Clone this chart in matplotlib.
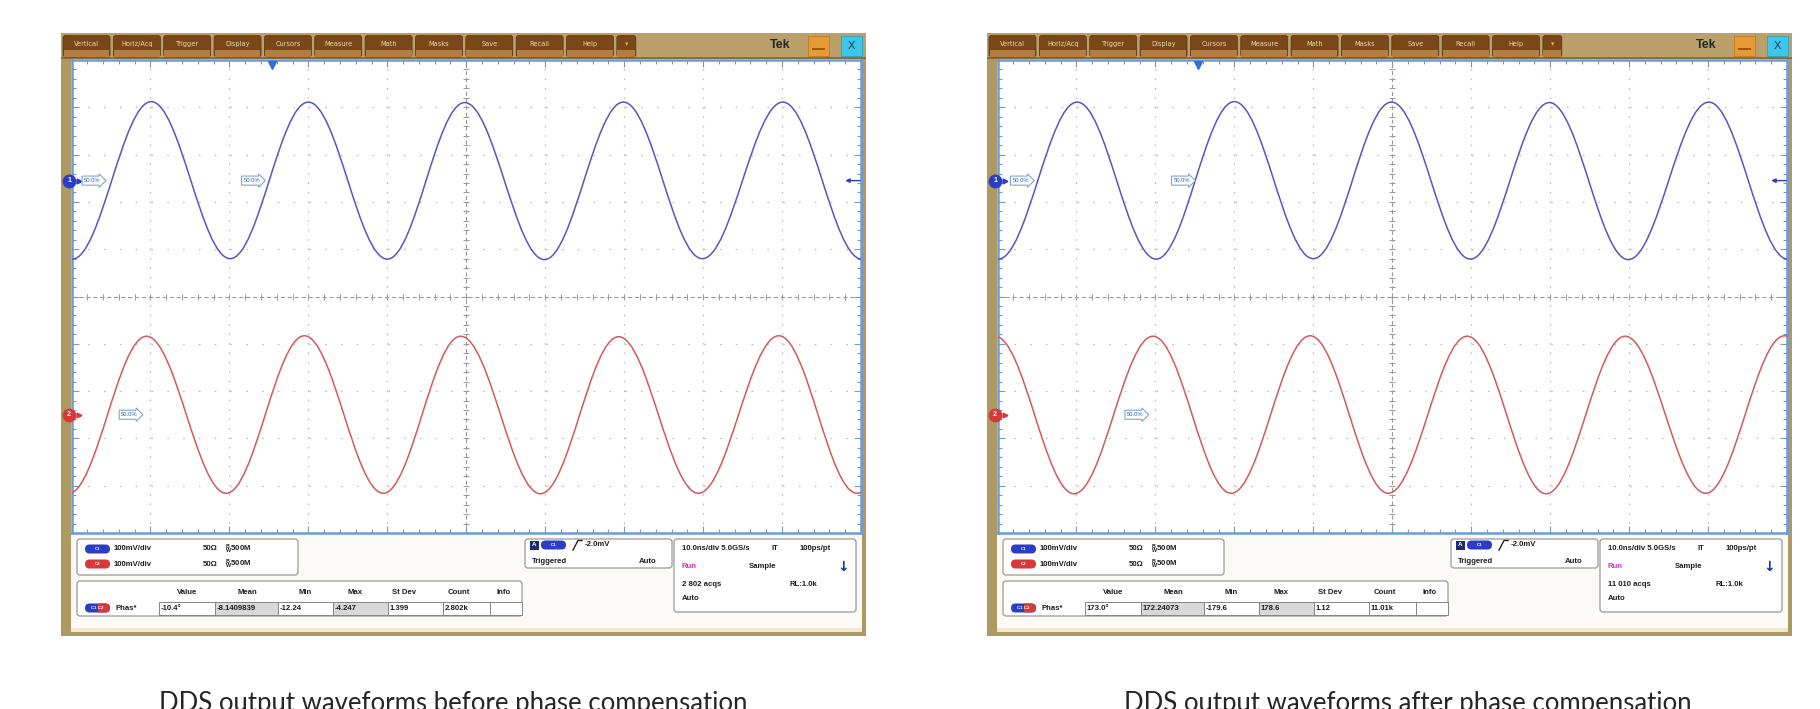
import matplotlib
matplotlib.use("Agg")
import numpy as np
import matplotlib.pyplot as plt
from matplotlib.patches import Rectangle, FancyBboxPatch, PathPatch
from matplotlib.path import Path

plt.rcParams['font.family'] = ['Liberation Sans', 'DejaVu Sans']
plt.rcParams['mathtext.fontset'] = 'custom'
plt.rcParams['mathtext.rm'] = 'Liberation Sans:bold'
plt.rcParams['mathtext.it'] = 'Liberation Sans:bold'
plt.rcParams['mathtext.bf'] = 'Liberation Sans:bold'
plt.rcParams['lines.scale_dashes'] = False

# ---------------- data ----------------
captions = ["DDS output waveforms before phase compensation",
            "DDS output waveforms after phase compensation"]
menu_tabs = ["Vertical", "Horiz/Acq", "Trigger", "Display", "Cursors", "Measure",
             "Math", "Masks", "Save", "Recall", "Help", "\u25be"]
channel_scale = ["100mV/div", "100mV/div"]
channel_term = ["50\u03a9", "50\u03a9"]
channel_bw = ["500M", "500M"]
meas_headers = ["Value", "Mean", "Min", "Max", "St Dev", "Count", "Info"]
meas_before = ["-10.4\u00b0", "-8.1409839", "-12.24", "-4.247", "1.399", "2.802k", ""]
meas_after = ["173.0\u00b0", "172.24073", "-179.6", "178.6", "1.12", "11.01k", ""]
acqs_before = "2 802 acqs"
acqs_after = "11 010 acqs"
trigger_level = "-2.0mV"
horiz_settings = ["10.0ns/div 5.0GS/s", "IT", "100ps/pt"]
record_length = "RL:1.0k"
marker_label = "50.0%"

# waveform extrema: time (ns) and level (mV); channel offsets in divisions
volts_per_div_mv = 100.0
ch1_pos_div = 2.45
ch2_pos_div = -2.5
before_ch1_t = [-9.9, 0.1, 10.1, 20.1, 30.0, 40.0, 49.8, 59.9, 69.9, 79.9, 90.1, 100.1]
before_ch1_mv = [166, -166, 167, -165, 166, -166, 165, -167, 166, -165, 166, -166]
before_ch2_t = [-10.4, -0.4, 9.5, 19.6, 29.5, 39.5, 49.3, 59.4, 69.3, 79.4, 89.6, 99.5, 109.6]
before_ch2_mv = [167, -167, 166, -166, 167, -166, 166, -167, 165, -166, 167, -166, 166]
after_ch1_t = [-9.9, 0.1, 10.1, 20.1, 30.0, 40.0, 49.9, 59.9, 69.9, 79.9, 90.1, 100.1]
after_ch1_mv = [166, -166, 166, -166, 167, -165, 166, -166, 165, -167, 166, -166]
after_ch2_t = [-10.3, -0.3, 9.7, 19.7, 29.6, 39.6, 49.5, 59.5, 69.5, 79.5, 89.7, 99.7, 109.6]
after_ch2_mv = [-166, 166, -167, 166, -166, 167, -166, 166, -167, 166, -166, 167, -166]

# ---------------- style ----------------
W, H = 1820, 709
DX = 926
GOLD = '#AD9961'
BLUE_TR = '#5656C8'
RED_TR = '#D45A5A'
BLUE_UI = '#2B3DC6'
RED_UI = '#D83838'
TXT = '#1E1E1E'

fig = plt.figure(figsize=(W / 100, H / 100), dpi=100)
fig.patch.set_facecolor('white')
bg = fig.add_axes([0, 0, 1, 1])
bg.set_xlim(0, W)
bg.set_ylim(H, 0)
bg.axis('off')


def t(ax, x, y, s, **kw):
    d = dict(fontsize=5.6, weight='bold', color=TXT, va='center', ha='left')
    d.update(kw)
    ax.text(x, y, s, **d)


def rbox(ax, x0, y0, x1, y1):
    ax.add_patch(FancyBboxPatch((x0, y0), x1 - x0, y1 - y0,
                                boxstyle='round,pad=0,rounding_size=3',
                                fc='white', ec='#9A9A9A', lw=0.9))


def pill(ax, x0, yc, w, h, color, label, color2=None):
    bs = 'round,pad=0,rounding_size=%.2f' % (h / 2)
    ax.add_patch(FancyBboxPatch((x0, yc - h / 2), w, h, boxstyle=bs, fc=color, ec='none'))
    if color2:
        p2 = FancyBboxPatch((x0, yc - h / 2), w, h, boxstyle=bs, fc=color2, ec='none')
        ax.add_patch(p2)
        p2.set_clip_path(Rectangle((x0 + w / 2, yc - h), w, 2 * h, transform=ax.transData))
    ax.text(x0 + w / 2, yc, label, fontsize=3.2, color='white', ha='center',
            va='center', weight='bold')


def draw_frame(ax, dx):
    ax.add_patch(Rectangle((61 + dx, 33), 805, 603, fc=GOLD, ec='none'))
    ax.add_patch(Rectangle((71 + dx, 58), 791, 574, fc='#FBFAF6', ec='none'))
    ax.add_patch(Rectangle((71 + dx, 628), 791, 4, fc='#EFE8D2', ec='none'))
    # menu bar
    ax.add_patch(Rectangle((61 + dx, 33), 805, 25, fc='#BBA06C', ec='none'))
    ax.add_patch(Rectangle((61 + dx, 56.5), 805, 2, fc='#8A6E40', ec='none'))
    for i, name in enumerate(menu_tabs):
        x0 = 63 + dx + i * 50.35
        w = 47 if i < len(menu_tabs) - 1 else 19
        ax.add_patch(FancyBboxPatch((x0, 35.5), w, 21.5,
                                    boxstyle='round,pad=0,rounding_size=2.5',
                                    fc='#7A4718', ec='#5A320E', lw=0.5))
        ax.add_patch(Rectangle((x0 + 0.6, 49.5), w - 1.2, 7, fc='#B27E44', ec='none'))
        col = '#EBDAB2' if i < len(menu_tabs) - 1 else '#F0B040'
        ax.text(x0 + w / 2, 44, name, fontsize=4.8, color=col, ha='center',
                va='center', family=['DejaVu Sans'])
    ax.text(780 + dx, 45.5, "Tek", fontsize=9, weight='bold', color='#262626',
            ha='center', va='center')
    ax.add_patch(Rectangle((808 + dx, 36), 21, 20, fc='#E69A35', ec='#B87420', lw=0.5))
    ax.add_patch(Rectangle((812 + dx, 48), 13, 2.2, fc='#9E5810', ec='none'))
    ax.add_patch(Rectangle((841 + dx, 36), 21, 20, fc='#3CC6EA', ec='#1E9CC0', lw=0.5))
    ax.text(851.5 + dx, 46, "X", fontsize=8, color='#143A5C', ha='center', va='center')


def draw_info(ax, dx, meas, acqs):
    # channel box
    rbox(ax, 77 + dx, 539, 298 + dx, 575)
    for yy, col, lab, k in [(549, BLUE_UI, 'C1', 0), (564, RED_UI, 'C2', 1)]:
        pill(ax, 85 + dx, yy, 25, 9, col, lab)
        t(ax, 114 + dx, yy, channel_scale[k])
        t(ax, 203 + dx, yy, channel_term[k])
        t(ax, 225 + dx, yy + 0.5, r'$^{B}_{W}$' + channel_bw[k])
    # measurement box
    rbox(ax, 77 + dx, 581, 522 + dx, 616)
    hdr_x = [187, 247, 305, 355, 404, 459, 504]
    for hx, hs in zip(hdr_x, meas_headers):
        t(ax, hx + dx, 592, hs, ha='center')
    bounds = [159, 215, 278, 333, 388, 443, 490, 522]
    for i, val in enumerate(meas):
        x0, x1 = bounds[i] + dx, bounds[i + 1] + dx
        fc = '#D8D8D8' if i in (1, 3) else 'white'
        ax.add_patch(Rectangle((x0, 602), x1 - x0, 12.5, fc=fc, ec='#858585', lw=0.7))
        t(ax, x0 + 2, 608.3, val)
    pill(ax, 85 + dx, 608, 25, 9, BLUE_UI, 'C1 C2', color2=RED_UI)
    t(ax, 115 + dx, 608, "Phas*")
    # trigger box
    rbox(ax, 525 + dx, 539, 672 + dx, 568)
    ax.add_patch(Rectangle((530 + dx, 540.5), 8.5, 9, fc='#1C2C6E', ec='none'))
    ax.text(534.3 + dx, 545, "A", fontsize=4.5, color='white', ha='center', va='center',
            weight='bold')
    pill(ax, 541 + dx, 545, 25, 9, BLUE_UI, 'C1')
    ax.plot([573 + dx, 578 + dx, 582 + dx], [550, 540.5, 540.5], color='#202020', lw=1.0)
    t(ax, 585 + dx, 545, trigger_level)
    t(ax, 532 + dx, 561.5, "Triggered")
    t(ax, 656 + dx, 561.5, "Auto", ha='right')
    # horizontal / acquisition box
    rbox(ax, 674 + dx, 539, 856 + dx, 612)
    t(ax, 682 + dx, 548, horiz_settings[0])
    t(ax, 772 + dx, 548, horiz_settings[1])
    t(ax, 800 + dx, 548, horiz_settings[2])
    t(ax, 682 + dx, 566, "Run", color='#D02CD0')
    t(ax, 749 + dx, 566, "Sample")
    ax.text(843 + dx, 567, "\u2193", fontsize=10, weight='bold', color='#1030B8',
            ha='center', va='center', family=['DejaVu Sans'])
    t(ax, 682 + dx, 584, acqs)
    t(ax, 790 + dx, 584, record_length)
    t(ax, 682 + dx, 599, "Auto")


K = (np.pi - 2) / np.pi


def wave_path(ts, mvs, pos):
    ys = [v / volts_per_div_mv + pos for v in mvs]
    verts = [(ts[0], ys[0])]
    codes = [Path.MOVETO]
    for i in range(1, len(ts)):
        d = ts[i] - ts[i - 1]
        verts += [(ts[i - 1] + K * d, ys[i - 1]), (ts[i] - K * d, ys[i]), (ts[i], ys[i])]
        codes += [Path.CURVE4] * 3
    return Path(verts, codes)


def draw_graticule(dx, ch1, ch2, blue_boxes, red_boxes):
    ax = fig.add_axes([(71.5 + dx) / W, 1 - 533 / H, 789.5 / W, 473 / H])
    ax.set_xlim(0, 100)
    ax.set_ylim(-5, 5)
    ax.set_facecolor('white')
    for s in ax.spines.values():
        s.set_color('#6A9BDB')
        s.set_linewidth(1.8)
    ax.set_xticks(np.arange(0, 101, 10))
    ax.set_xticks(np.arange(0, 101, 2), minor=True)
    ax.set_yticks(np.arange(-5, 5.01, 1))
    ax.set_yticks(np.arange(-5, 5.01, 0.2), minor=True)
    ax.tick_params(which='both', direction='in', top=True, right=True,
                   labelbottom=False, labelleft=False, color='#8196B8', width=0.8)
    ax.tick_params(which='major', length=5)
    ax.tick_params(which='minor', length=3)
    for k in range(1, 10):
        if k != 5:
            ax.axvline(10 * k, color='#BDBDBD', lw=0.9, ls=(0, (1.2, 5.6)), zorder=1)
    for k in range(-4, 5):
        if k != 0:
            ax.axhline(k, color='#BDBDBD', lw=0.9, ls=(0, (1.2, 10.17)), zorder=1)
    ax.axvline(50, color='#9A9A9A', lw=0.8, ls=(0, (3, 2)), zorder=1)
    ax.axhline(0, color='#9A9A9A', lw=0.8, ls=(0, (3, 2)), zorder=1)
    xs = np.arange(2, 99, 2)
    ax.plot(xs, np.zeros(len(xs)), ls='none', marker='|', ms=4, mew=0.7,
            color='#9A9A9A', zorder=1)
    ys = np.arange(-4.8, 4.81, 0.2)
    ax.plot(np.full(len(ys), 50.0), ys, ls='none', marker='_', ms=4, mew=0.7,
            color='#9A9A9A', zorder=1)
    # traces
    for (ts, mvs), pos, col in [(ch1, ch1_pos_div, BLUE_TR), (ch2, ch2_pos_div, RED_TR)]:
        ax.add_patch(PathPatch(wave_path(ts, mvs, pos), fill=False, ec=col, lw=1.1,
                               joinstyle='round', capstyle='round', zorder=3))
    # trigger position marker
    ax.plot([25.4], [4.9], marker='v', ms=6, color='#2E6FD8', clip_on=False, zorder=5)
    # channel markers
    for pos, col, lab in [(ch1_pos_div, BLUE_UI, '1'), (ch2_pos_div, RED_UI, '2')]:
        ax.plot([-0.3], [pos], marker='o', ms=9, color=col, clip_on=False, zorder=6)
        ax.text(-0.3, pos, lab, fontsize=5, color='white', ha='center', va='center',
                weight='bold', zorder=7, clip_on=False)
        ax.plot([0.9], [pos], marker='>', ms=3.5, color=col, clip_on=False, zorder=6)
    ax.annotate('', xy=(98.0, ch1_pos_div), xytext=(99.9, ch1_pos_div),
                arrowprops=dict(arrowstyle='-|>', color=BLUE_UI, lw=1.0,
                                mutation_scale=6, shrinkA=0, shrinkB=0), zorder=6)
    for bx_list, pos in [(blue_boxes, ch1_pos_div), (red_boxes, ch2_pos_div)]:
        for bx in bx_list:
            ax.text(bx, pos, marker_label, fontsize=4.2, color='#2F5FB0', ha='left',
                    va='center', zorder=6,
                    bbox=dict(boxstyle='rarrow,pad=0.35', fc='white', ec='#7FA6DA', lw=0.8))
    return ax


shots = [
    (0, (before_ch1_t, before_ch1_mv), (before_ch2_t, before_ch2_mv), meas_before,
     acqs_before, [1.6, 21.8], [6.3]),
    (DX, (after_ch1_t, after_ch1_mv), (after_ch2_t, after_ch2_mv), meas_after,
     acqs_after, [1.9, 22.3], [16.4]),
]
cap_x = [453, 1408]
for k, (dx, ch1, ch2, meas, acqs, bb, rb) in enumerate(shots):
    draw_frame(bg, dx)
    draw_info(bg, dx, meas, acqs)
    draw_graticule(dx, ch1, ch2, bb, rb)
    fig.text(cap_x[k] / W, (H - 711) / H, captions[k], fontsize=18.5, family=['Lato'],
             color='#262626', ha='center', va='baseline')

fig.savefig('out.png', dpi=100)
